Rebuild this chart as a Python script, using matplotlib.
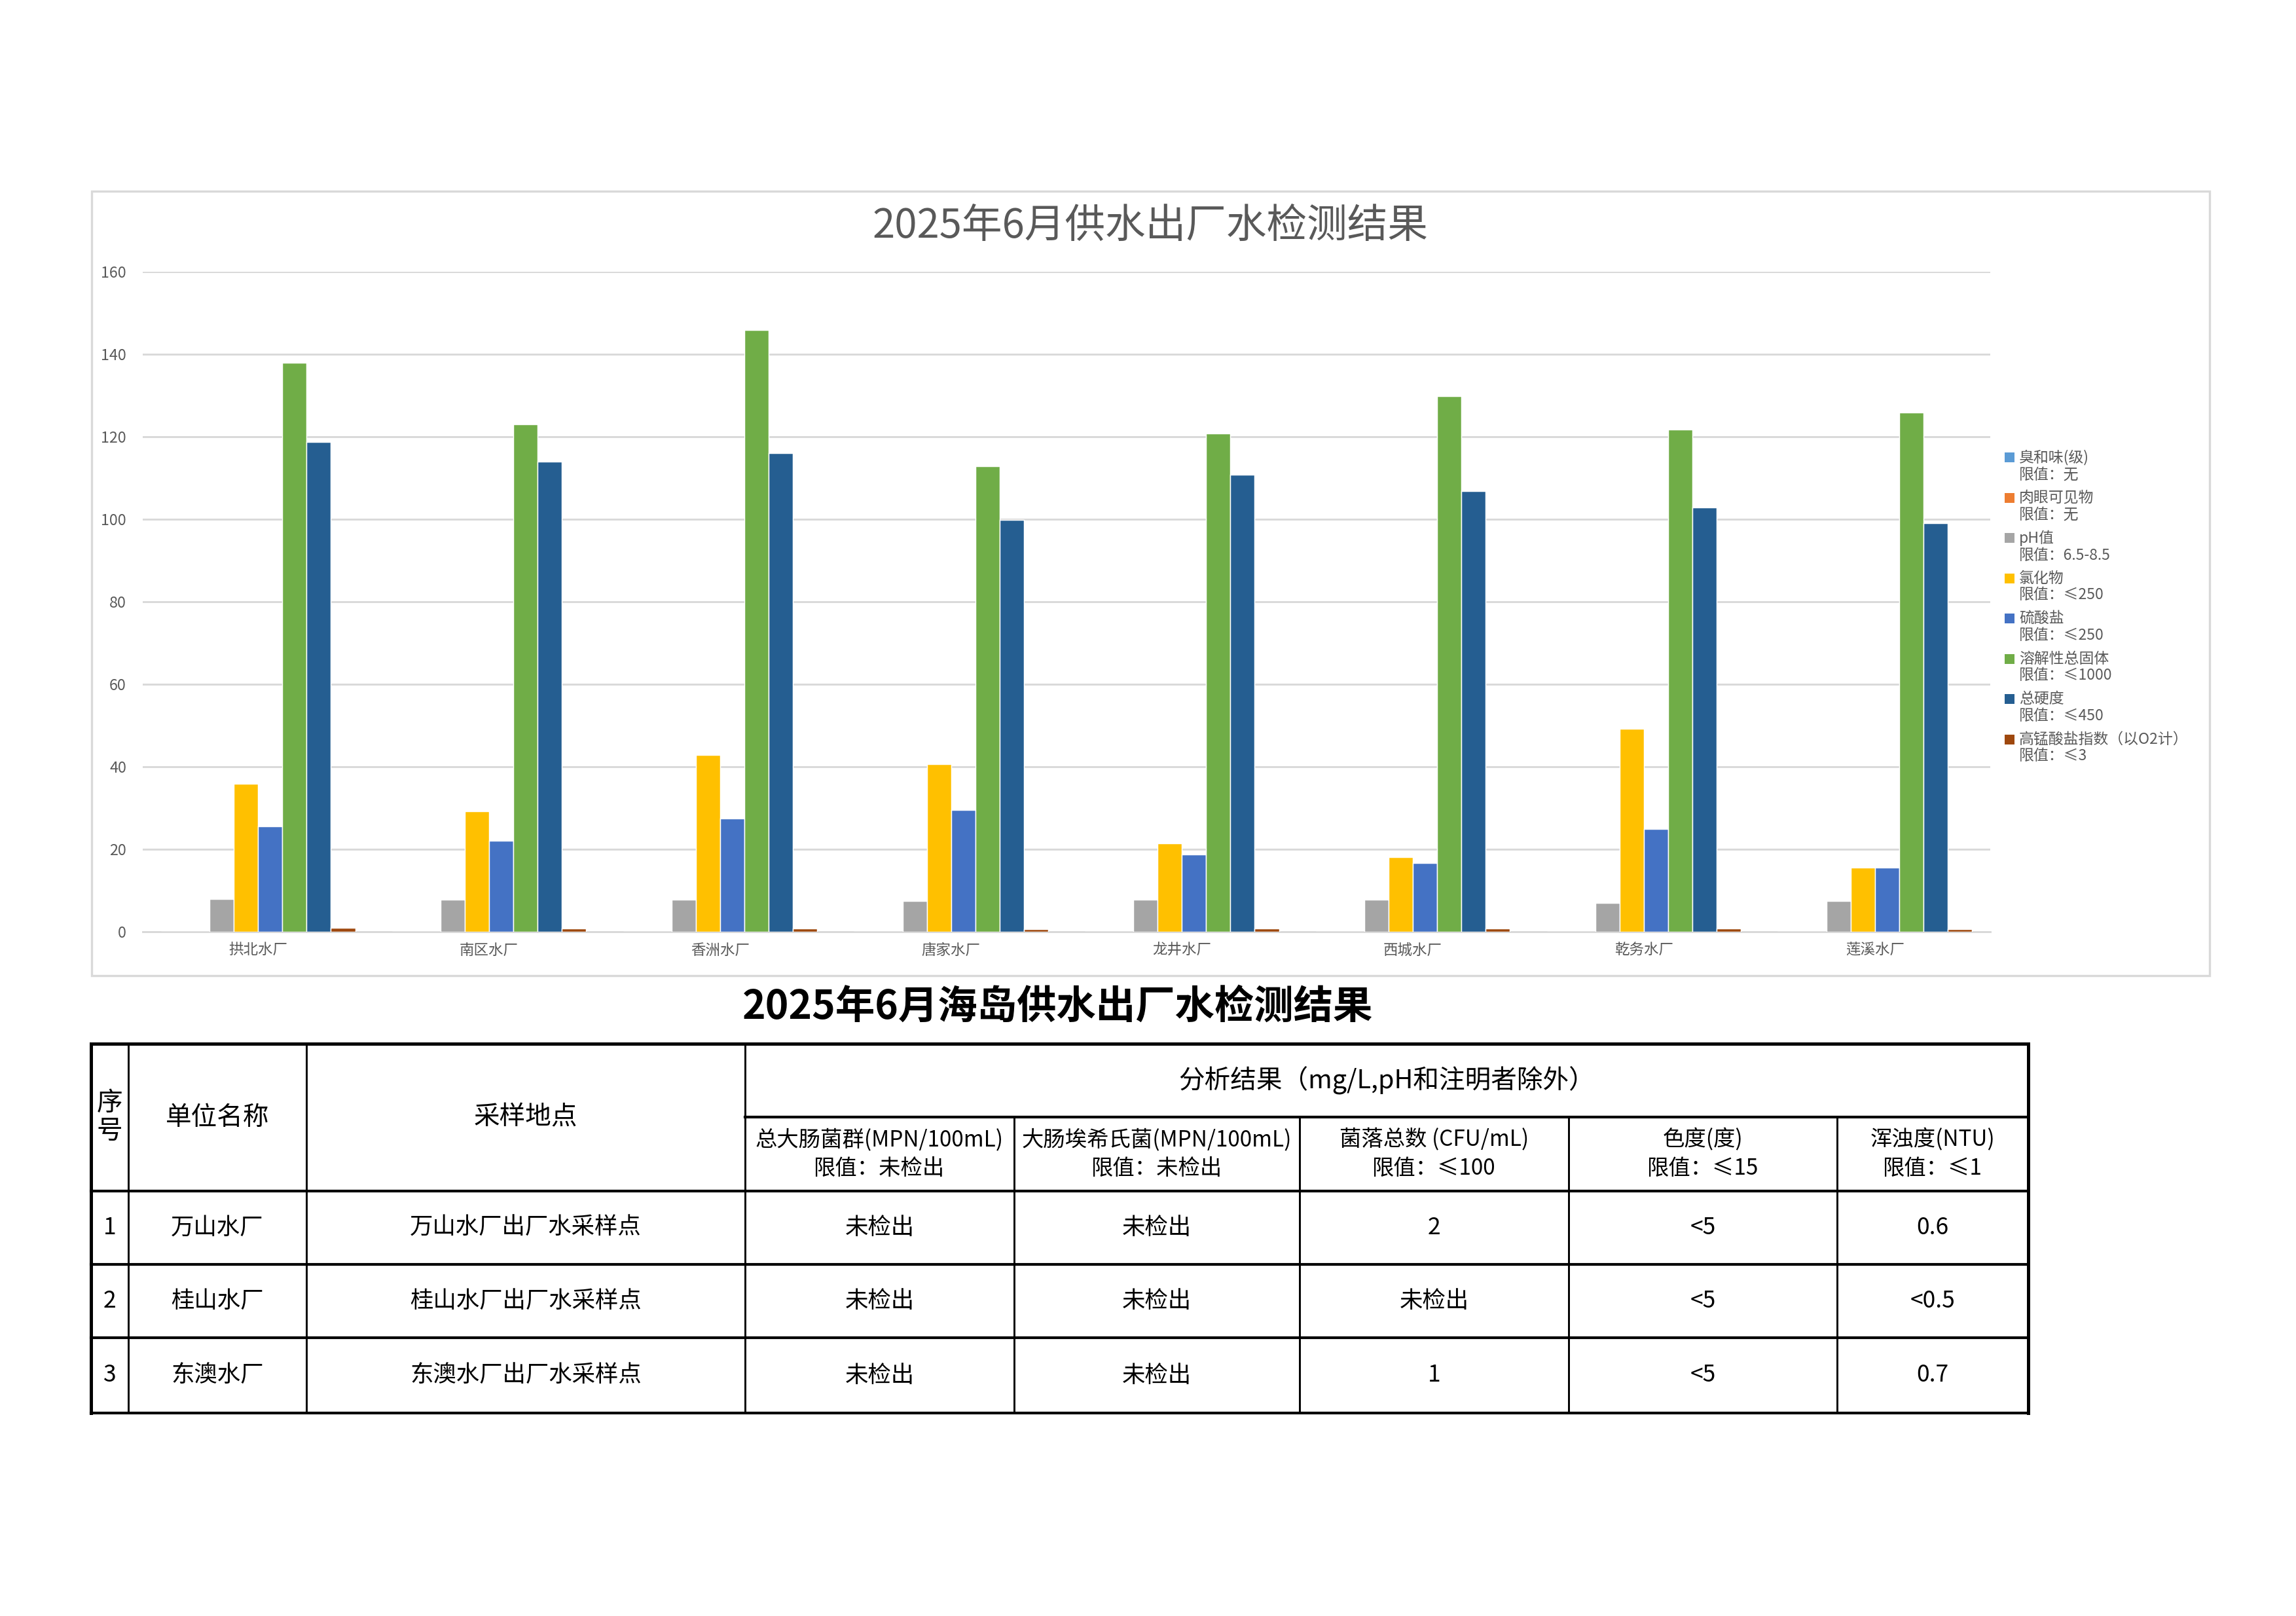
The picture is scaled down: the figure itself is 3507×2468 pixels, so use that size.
import numpy as np
import matplotlib
matplotlib.use("Agg")
import matplotlib.pyplot as plt
from matplotlib.patches import Rectangle

plt.rcParams['font.family'] = ['Noto Sans CJK SC', 'DejaVu Sans']

# --- chart data ---
plants = ['拱北水厂', '南区水厂', '香洲水厂', '唐家水厂', '龙井水厂', '西城水厂', '乾务水厂', '莲溪水厂']
odor = [0, 0, 0, 0, 0, 0, 0, 0]
visible_matter = [0, 0, 0, 0, 0, 0, 0, 0]
ph = [7.9, 7.8, 7.7, 7.5, 7.7, 7.7, 7.0, 7.5]
chloride = [35.9, 29.2, 42.8, 40.7, 21.5, 18.1, 49.2, 15.5]
sulfate = [25.6, 22.1, 27.4, 29.5, 18.8, 16.6, 25.0, 15.5]
tds = [137.9, 123.0, 145.8, 112.9, 120.8, 129.9, 121.8, 125.8]
hardness = [118.8, 113.9, 116.0, 99.8, 110.8, 106.8, 102.9, 99.0]
permanganate = [1.0, 0.85, 0.8, 0.7, 0.8, 0.8, 0.8, 0.7]

series_names = ['臭和味(级)\n限值：无', '肉眼可见物\n限值：无', 'pH值\n限值：6.5-8.5',
                '氯化物\n限值：≤250', '硫酸盐\n限值：≤250', '溶解性总固体\n限值：≤1000',
                '总硬度\n限值：≤450', '高锰酸盐指数（以O2计）\n限值：≤3']
series_values = [odor, visible_matter, ph, chloride, sulfate, tds, hardness, permanganate]
series_colors = ['#5B9BD5', '#ED7D31', '#A5A5A5', '#FFC000', '#4472C4', '#70AD47', '#255E91', '#9E480E']
yticks = [0, 20, 40, 60, 80, 100, 120, 140, 160]

# --- table data ---
table_title = '2025年6月海岛供水出厂水检测结果'
seq_no = ['1', '2', '3']
units = ['万山水厂', '桂山水厂', '东澳水厂']
sites = ['万山水厂出厂水采样点', '桂山水厂出厂水采样点', '东澳水厂出厂水采样点']
total_coliform = ['未检出', '未检出', '未检出']
e_coli = ['未检出', '未检出', '未检出']
colony_count = ['2', '未检出', '1']
chroma = ['<5', '<5', '<5']
turbidity = ['0.6', '<0.5', '0.7']
sub_headers = ['总大肠菌群(MPN/100mL)\n限值：未检出', '大肠埃希氏菌(MPN/100mL)\n限值：未检出',
               '菌落总数 (CFU/mL)\n限值：≤100', '色度(度)\n限值：≤15', '浑浊度(NTU)\n限值：≤1']

W, H = 3507, 2468
fig = plt.figure(figsize=(W / 300, H / 300), dpi=300)

# overlay axes in pixel units for frame + table
ov = fig.add_axes([0, 0, 1, 1], zorder=0)
ov.set_xlim(0, W)
ov.set_ylim(H, 0)
ov.axis('off')
ov.patch.set_alpha(0)

grey_txt = '#595959'
ov.add_patch(Rectangle((140, 292), 3375 - 140, 1490 - 292, fill=False,
                       edgecolor='#d9d9d9', lw=0.8))
ov.text(1757, 346, '2025年6月供水出厂水检测结果', ha='center', va='center',
        fontsize=14.8, color=grey_txt)

# --- bar chart ---
ax = fig.add_axes([218 / W, 1 - 1423 / H, (3040 - 218) / W, (1423 - 415) / H], zorder=1)
ax.patch.set_alpha(0)
x = np.arange(len(plants))
bw = 0.105
for i, (vals, col) in enumerate(zip(series_values, series_colors)):
    ax.bar(x + (i - 3.5) * bw, vals, width=bw, color=col, edgecolor='white',
           linewidth=0.35, zorder=3)
ax.set_xlim(-0.5, len(plants) - 0.5)
ax.set_ylim(0, 160)
ax.set_yticks(yticks)
ax.set_xticks(x)
ax.set_xticklabels(plants, fontsize=5.4, color=grey_txt)
ax.tick_params(axis='y', labelsize=5.6, labelcolor=grey_txt, length=0, pad=6)
ax.tick_params(axis='x', length=0, pad=4)
ax.grid(axis='y', color='#d9d9d9', linewidth=0.7, zorder=0)
for s in ['top', 'right', 'left']:
    ax.spines[s].set_visible(False)
ax.spines['bottom'].set_color('#d9d9d9')
ax.spines['bottom'].set_linewidth(0.7)

# legend (manual, marker aligned with first line)
for i, (name, col) in enumerate(zip(series_names, series_colors)):
    y0 = 699 + i * 61.5
    ov.add_patch(Rectangle((3062, y0 - 8), 15, 15, color=col, lw=0))
    ov.text(3084, y0 - 12, name, ha='left', va='top', fontsize=5.5,
            color=grey_txt, linespacing=1.15)

# --- table ---
ov.text(1616, 1538, table_title, ha='center', va='center', fontsize=14.5,
        fontweight='bold', color='black')
cols = [139, 196, 468, 1138, 1549, 1985, 2396, 2806, 3098]
rows = [1594, 1706, 1819, 1931, 2043, 2158]
lc = 'black'
# horizontal lines
ov.plot([cols[0], cols[-1]], [rows[0], rows[0]], color=lc, lw=1.2)
ov.plot([cols[3], cols[-1]], [rows[1], rows[1]], color=lc, lw=1.0)
for r in rows[2:]:
    ov.plot([cols[0], cols[-1]], [r, r], color=lc, lw=1.0)
# vertical lines
for j, c in enumerate(cols):
    top = rows[1] if j in (4, 5, 6, 7) else rows[0]
    lw = 1.2 if j in (0, len(cols) - 1) else 0.7
    ov.plot([c, c], [top, rows[-1]], color=lc, lw=lw)

def mid(a, b):
    return (a + b) / 2

hy = mid(rows[0], rows[2])
ov.text(mid(cols[0], cols[1]), hy, '序\n号', ha='center', va='center', fontsize=9.5, linespacing=1.1)
ov.text(mid(cols[1], cols[2]), hy, '单位名称', ha='center', va='center', fontsize=9.5)
ov.text(mid(cols[2], cols[3]), hy, '采样地点', ha='center', va='center', fontsize=9.5)
ov.text(mid(cols[3], cols[-1]), mid(rows[0], rows[1]), '分析结果（mg/L,pH和注明者除外）',
        ha='center', va='center', fontsize=9.5)
for k, txt in enumerate(sub_headers):
    ov.text(mid(cols[3 + k], cols[4 + k]), mid(rows[1], rows[2]), txt, ha='center',
            va='center', fontsize=8.0, linespacing=1.3)

table_cols = [seq_no, units, sites, total_coliform, e_coli, colony_count, chroma, turbidity]
for r in range(3):
    yc = mid(rows[2 + r], rows[3 + r])
    for k, colvals in enumerate(table_cols):
        ov.text(mid(cols[k], cols[k + 1]), yc, colvals[r], ha='center', va='center',
                fontsize=8.5)

fig.savefig('out.png', dpi=300, facecolor='white')
